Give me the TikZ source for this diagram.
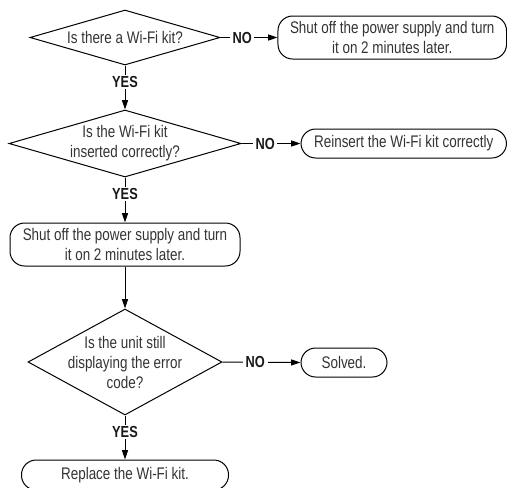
\documentclass[tikz,border=0pt]{standalone}
\usepackage{fontspec}
\setmainfont[FakeStretch=0.8]{Liberation Sans}
\usetikzlibrary{shapes.geometric,arrows.meta}
\definecolor{txt}{HTML}{333333}
\tikzset{
  px/.style={x=0.75pt,y=-0.75pt},
  decision/.style={shape=diamond,draw=black,line width=0.75pt,inner sep=0pt},
  dtext/.style={align=center,text=txt,font=\fontsize{12.6pt}{15pt}\selectfont,inner sep=0pt},
  term/.style={rectangle,draw=black,line width=0.75pt,rounded corners=11pt,align=center,
    text=txt,font=\fontsize{12.6pt}{15pt}\selectfont,inner sep=0pt},
  flow/.style={draw=black,line width=0.75pt,-{Triangle[length=7pt,width=4.5pt]}},
  lab/.style={fill=white,inner xsep=2pt,inner ysep=1pt,font=\fontsize{12pt}{13pt}\selectfont\bfseries,text=black!90}
}
\begin{document}
\begin{tikzpicture}[px]
\useasboundingbox (0,0) rectangle (507,487);
% decisions
\node[decision,minimum width=142.5pt,minimum height=41.25pt] (d1) at (125,37.5) {};
\node[dtext] (t1) at (d1.center) {Is there a Wi-Fi kit?};
\node[decision,minimum width=174pt,minimum height=50.25pt] (d2) at (125,143.5) {};
\node[dtext] (t2) at (d2.center) {Is the Wi-Fi kit\\inserted correctly?};
\node[decision,minimum width=145.5pt,minimum height=79.5pt] (d3) at (125,362) {};
\node[dtext] (t3) at (d3.center) {Is the unit still\\displaying the error\\code?};
% terminals
\node[term,minimum width=171.4pt,minimum height=32.25pt] (b1) at (392.25,37.5) {Shut off the power supply and turn\\it on 2 minutes later.};
\node[term,minimum width=154.1pt,minimum height=21.75pt] (b2) at (403.75,143.5) {Reinsert the Wi-Fi kit correctly};
\node[term,minimum width=172.5pt,minimum height=32.25pt] (b3) at (125,244.5) {Shut off the power supply and turn\\it on 2 minutes later.};
\node[term,minimum width=64.5pt,minimum height=21.75pt] (b5) at (344,362.5) {Solved.};
\node[term,minimum width=155.25pt,minimum height=22.5pt] (b4) at (125,475) {Replace the Wi-Fi kit.};
% connectors
\draw[flow] (d1.east) -- node[lab,pos=0.38] {NO} (b1.west);
\draw[flow] (d2.east) -- node[lab,pos=0.4] {NO} (b2.west);
\draw[flow] (d3.east) -- node[lab,pos=0.42] {NO} (b5.west);
\draw[flow] (d1.south) -- node[lab,pos=0.37] {YES} (d2.north);
\draw[flow] (d2.south) -- node[lab,pos=0.37] {YES} (b3.north);
\draw[flow] (b3.south) -- (d3.north);
\draw[flow] (d3.south) -- node[lab,pos=0.38] {YES} (b4.north);
\end{tikzpicture}
\end{document}
